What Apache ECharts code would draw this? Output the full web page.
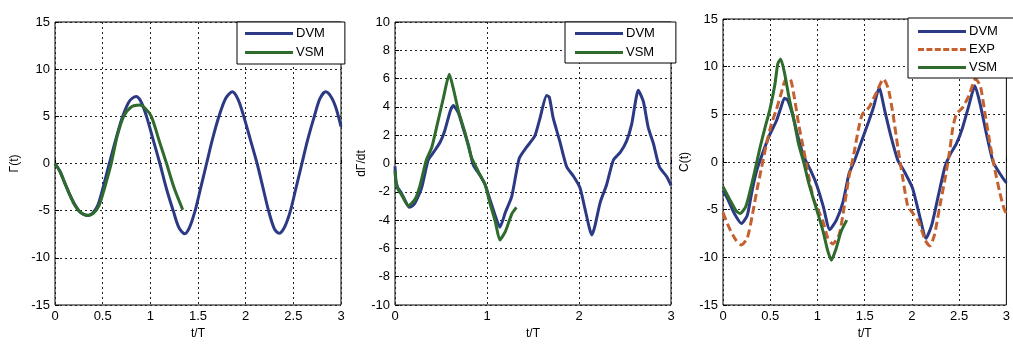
<!DOCTYPE html>
<html>
<head>
<meta charset="utf-8">
<script src="https://cdn.jsdelivr.net/npm/echarts@6/dist/echarts.min.js"></script>
<style>html,body{margin:0;padding:0;background:#fff;}#c{width:1013px;height:345px;}</style>
</head>
<body>
<div id="c"></div>
<script>
// ---- data: [t/T, value] ----
const gammaDVM = [[0,0],[0.05,-0.8],[0.1,-2.0],[0.15,-3.2],[0.2,-4.2],[0.25,-5.0],[0.3,-5.4],[0.35,-5.5],[0.4,-5.2],[0.45,-4.4],[0.5,-2.7],[0.57,0],[0.65,3.0],[0.71,5.0],[0.78,6.6],[0.85,7.1],[0.9,6.6],[0.96,5.0],[1.03,2.5],[1.10,0],[1.17,-2.7],[1.24,-5.0],[1.30,-6.8],[1.36,-7.45],[1.41,-6.8],[1.47,-5.0],[1.53,-2.5],[1.59,0],[1.65,2.5],[1.72,5.0],[1.79,6.9],[1.86,7.6],[1.92,6.8],[1.98,5.0],[2.05,2.5],[2.12,0],[2.18,-2.5],[2.24,-5.0],[2.30,-6.9],[2.35,-7.4],[2.41,-6.7],[2.47,-5.0],[2.53,-2.5],[2.59,0],[2.65,2.5],[2.72,5.0],[2.78,6.9],[2.84,7.6],[2.90,7.0],[2.95,5.8],[3.0,3.9]];
const gammaVSM = [[0,0],[0.05,-0.8],[0.1,-2.0],[0.15,-3.2],[0.2,-4.3],[0.25,-5.0],[0.33,-5.5],[0.4,-5.3],[0.46,-4.5],[0.52,-2.6],[0.59,0],[0.65,2.8],[0.72,5.0],[0.8,6.0],[0.89,6.2],[0.95,5.8],[1.01,5.0],[1.09,2.5],[1.17,0],[1.25,-2.6],[1.34,-4.9]];
const dgammaDVM = [[0,-0.2],[0.01,-1.2],[0.03,-1.7],[0.07,-2.1],[0.116,-2.7],[0.156,-3.1],[0.19,-3.0],[0.22,-2.76],[0.29,-1.7],[0.36,0.23],[0.42,0.8],[0.49,1.5],[0.54,2.3],[0.60,3.7],[0.634,4.1],[0.69,3.56],[0.74,2.5],[0.80,1.26],[0.85,-0.1],[0.92,-0.8],[0.98,-1.5],[1.03,-2.5],[1.09,-3.7],[1.14,-4.5],[1.20,-3.45],[1.27,-2.3],[1.35,0.35],[1.43,1.15],[1.52,1.95],[1.576,3.2],[1.648,4.8],[1.677,4.7],[1.72,3.2],[1.79,1.6],[1.866,-0.23],[1.94,-0.9],[2.01,-1.7],[2.065,-3.2],[2.14,-5.05],[2.17,-4.5],[2.23,-2.76],[2.30,-1.5],[2.373,0.23],[2.45,0.8],[2.518,1.6],[2.572,2.76],[2.645,5.17],[2.70,4.37],[2.753,2.53],[2.81,1.38],[2.873,-0.23],[2.953,-0.92],[3.0,-1.55]];
const dgammaVSM = [[0,-0.5],[0.01,-1.3],[0.03,-1.8],[0.07,-2.2],[0.145,-3.0],[0.22,-2.5],[0.27,-1.6],[0.34,0.23],[0.40,1.15],[0.45,2.5],[0.525,4.6],[0.59,6.3],[0.634,5.3],[0.69,3.7],[0.76,2.2],[0.83,0.46],[0.906,-0.57],[0.98,-1.5],[1.03,-2.76],[1.09,-4.1],[1.14,-5.4],[1.20,-4.8],[1.27,-3.56],[1.32,-3.1]];
const cDVM = [[0,-3.0],[0.05,-3.9],[0.12,-5.4],[0.195,-6.45],[0.257,-5.6],[0.31,-2.9],[0.36,-0.8],[0.43,1.2],[0.496,2.9],[0.565,4.3],[0.616,5.8],[0.65,6.7],[0.684,6.5],[0.736,5.0],[0.787,2.9],[0.856,0.55],[0.924,-0.8],[0.99,-2.35],[1.06,-4.6],[1.13,-7.1],[1.20,-6.1],[1.27,-4.2],[1.335,-1.2],[1.386,0],[1.42,0.9],[1.475,2.4],[1.544,4.3],[1.595,5.8],[1.653,7.8],[1.714,5.3],[1.78,2.6],[1.85,0.2],[1.92,-1.0],[2.005,-2.7],[2.073,-5.3],[2.15,-8.0],[2.21,-6.6],[2.28,-3.5],[2.35,-0.5],[2.40,0.7],[2.47,1.9],[2.536,3.6],[2.605,6.0],[2.666,8.0],[2.724,6.0],[2.79,2.9],[2.86,0],[2.93,-1.2],[3.0,-2.2]];
const cEXP = [[0,-5.3],[0.07,-7.0],[0.137,-8.2],[0.195,-8.7],[0.257,-8.0],[0.31,-5.6],[0.36,-2.9],[0.41,-0.5],[0.46,1.9],[0.513,4.0],[0.565,5.5],[0.616,7.2],[0.667,8.7],[0.71,8.7],[0.753,6.9],[0.80,4.0],[0.856,1.2],[0.907,-1.5],[0.958,-3.9],[1.01,-5.1],[1.06,-6.3],[1.11,-8.0],[1.16,-8.6],[1.23,-7.6],[1.28,-4.9],[1.335,-1.5],[1.386,0.9],[1.437,3.6],[1.475,5.0],[1.544,5.7],[1.61,7.0],[1.70,8.7],[1.75,7.7],[1.80,5.0],[1.85,1.6],[1.90,-1.5],[1.955,-4.6],[2.005,-5.3],[2.073,-6.3],[2.14,-8.2],[2.19,-8.8],[2.24,-7.6],[2.29,-4.9],[2.35,-1.8],[2.40,1.2],[2.433,3.6],[2.47,5.0],[2.536,5.7],[2.605,7.0],[2.673,8.7],[2.724,8.0],[2.775,5.0],[2.827,1.9],[2.878,-0.8],[2.93,-3.2],[2.975,-4.9],[3.0,-5.4]];
const cVSM = [[0,-2.6],[0.07,-3.9],[0.137,-5.1],[0.18,-5.4],[0.24,-4.7],[0.29,-2.9],[0.34,-0.8],[0.394,1.6],[0.445,3.6],[0.496,5.5],[0.548,8.05],[0.58,10.3],[0.61,10.8],[0.65,9.4],[0.70,6.7],[0.753,4.3],[0.80,1.9],[0.856,-0.1],[0.907,-2.2],[0.958,-3.9],[1.01,-5.6],[1.06,-7.3],[1.11,-9.35],[1.147,-10.3],[1.20,-9.0],[1.25,-7.3],[1.31,-6.1]];
const yNames = ['\u0393(t)', 'd\u0393/dt', 'C(t)'];
const xName = 't/T';

const C_DVM = '#2c3a85', C_VSM = '#2e6b2c', C_EXP = '#c4612f';
const FONT = 'Liberation Sans, Arial, sans-serif';
const ICON_SOLID = 'path://M0,0h48v3h-48z';
const ICON_DASH = 'path://M0,0h6v3h-6z M8.4,0h6v3h-6z M16.8,0h6v3h-6z M25.2,0h6v3h-6z M33.6,0h6v3h-6z M42,0h6v3h-6z';

function xAxis(idx, interval) {
  return {
    gridIndex: idx, type: 'value', min: 0, max: 3, interval: interval,
    name: xName, nameLocation: 'middle', nameGap: 23,
    nameTextStyle: {color: '#000', fontSize: 12, fontFamily: FONT},
    axisLine: {show: false},
    axisTick: {show: true, inside: true, length: 4, lineStyle: {color: '#000'}},
    axisLabel: {color: '#000', fontSize: 13, fontFamily: FONT, margin: 5},
    splitLine: {show: true, lineStyle: {color: '#222', type: [2, 3], width: 1}}
  };
}
function yAxis(idx, min, max, interval, name, gap) {
  return {
    gridIndex: idx, type: 'value', min: min, max: max, interval: interval,
    name: name, nameLocation: 'middle', nameGap: gap,
    nameTextStyle: {color: '#000', fontSize: 12, fontFamily: FONT},
    axisLine: {show: false},
    axisTick: {show: true, inside: true, length: 4, lineStyle: {color: '#000'}},
    axisLabel: {color: '#000', fontSize: 13, fontFamily: FONT, margin: 5},
    splitLine: {show: true, lineStyle: {color: '#222', type: [2, 3], width: 1}}
  };
}
function line(name, data, idx, color, dashed, smooth) {
  return {
    name: name, type: 'line', xAxisIndex: idx, yAxisIndex: idx, data: data,
    symbol: 'none', smooth: smooth,
    lineStyle: {color: color, width: 3, type: dashed ? [8, 4] : 'solid'},
    itemStyle: {color: color}
  };
}
function legend(names, left, top, pad, gap) {
  return {
    data: names.map(n => ({name: n, icon: n === 'EXP' ? ICON_DASH : ICON_SOLID})),
    left: left, top: top, orient: 'vertical', align: 'left',
    itemWidth: 48, itemHeight: 3, itemGap: gap, padding: pad, symbolKeepAspect: false,
    backgroundColor: '#fff', borderColor: '#000', borderWidth: 1, borderRadius: 0,
    textStyle: {color: '#000', fontSize: 13, fontFamily: FONT, padding: [0, 0, 0, -2]},
    selectedMode: false
  };
}

const chart = echarts.init(document.getElementById('c'), null, {renderer: 'canvas'});
chart.setOption({
  animation: false,
  backgroundColor: '#fff',
  grid: [
    {left: 55, top: 22, width: 286, height: 290, show: true, borderColor: '#000', borderWidth: 1},
    {left: 395, top: 22, width: 276, height: 290, show: true, borderColor: '#000', borderWidth: 1},
    {left: 723, top: 19, width: 292, height: 294, show: true, borderColor: '#000', borderWidth: 1}
  ],
  xAxis: [xAxis(0, 0.5), xAxis(1, 1), xAxis(2, 0.5)],
  yAxis: [
    yAxis(0, -15, 15, 5, yNames[0], 34),
    yAxis(1, -10, 10, 2, yNames[1], 24),
    yAxis(2, -15, 15, 5, yNames[2], 32)
  ],
  legend: [
    legend(['DVM', 'VSM'], 237, 22, [5, 20, 5, 8], 6),
    legend(['DVM', 'VSM'], 565, 22, [5, 21, 4, 10], 6),
    legend(['DVM', 'EXP', 'VSM'], 908, 18, [7, 30, 4, 10], 5)
  ],
  series: [
    line('DVM', gammaDVM, 0, C_DVM, false, 0.3),
    line('VSM', gammaVSM, 0, C_VSM, false, 0.3),
    line('DVM', dgammaDVM, 1, C_DVM, false, 0.2),
    line('VSM', dgammaVSM, 1, C_VSM, false, 0.2),
    line('DVM', cDVM, 2, C_DVM, false, 0.2),
    line('EXP', cEXP, 2, C_EXP, true, 0.2),
    line('VSM', cVSM, 2, C_VSM, false, 0.2)
  ]
});
</script>
</body>
</html>
